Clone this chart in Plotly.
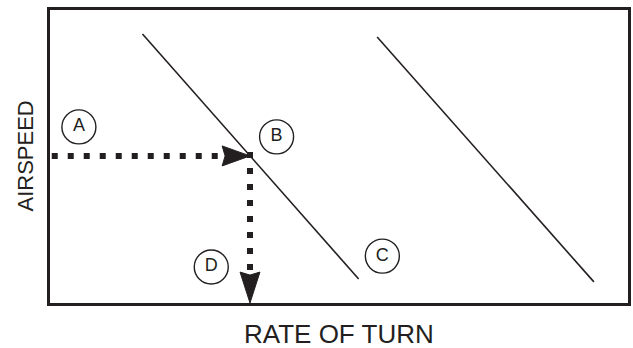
"""Rate of turn vs airspeed diagram"""

import plotly.graph_objects as go

# both axes run 0-100 (no scale shown on the original)
# two lines of constant bank angle
curve1_x = [16.0, 53.4]
curve1_y = [91.8, 8.2]
curve2_x = [56.6, 94.1]
curve2_y = [90.8, 7.2]

# reading: airspeed (A) meets curve 1 at B, drop down to the rate of turn (D)
airspeed = 50.2
turn_rate = 34.6

# circled letters
label_text = ["A", "B", "C", "D"]
label_x = [5.0, 39.2, 57.5, 27.9]
label_y = [60.1, 56.7, 16.0, 12.3]

x_title = "RATE OF TURN"
y_title = "AIRSPEED"

# page and plot area
W, H = 633, 348
M = dict(l=50, r=2, t=10, b=45)
INK = "#231f20"

# pixel -> data unit factors, for arrowheads sized in pixels
px_x = 100 / (W - M["l"] - M["r"])
px_y = 100 / (H - M["t"] - M["b"])
head_len, head_half = 28, 10  # arrowhead size in px

fig = go.Figure()

for cx, cy in [(curve1_x, curve1_y), (curve2_x, curve2_y)]:
    fig.add_trace(go.Scatter(x=cx, y=cy, mode="lines",
                             line=dict(color=INK, width=1.6)))

# dotted path A -> B
h_base = turn_rate - head_len * px_x
fig.add_trace(go.Scatter(x=[0.3, h_base], y=[airspeed, airspeed], mode="lines",
                         line=dict(color=INK, width=6, dash="6px,10px")))
fig.add_trace(go.Scatter(
    x=[turn_rate, h_base, h_base + 3 * px_x, h_base, turn_rate],
    y=[airspeed, airspeed + head_half * px_y, airspeed, airspeed - head_half * px_y, airspeed],
    mode="lines", fill="toself", fillcolor=INK, line=dict(color=INK, width=1)))

# dotted path B -> D
v_base = head_len * px_y + 1
fig.add_trace(go.Scatter(x=[turn_rate, turn_rate], y=[airspeed + 4 * px_y, v_base],
                         mode="lines", line=dict(color=INK, width=6, dash="6px,10px")))
fig.add_trace(go.Scatter(
    x=[turn_rate, turn_rate - head_half * px_x, turn_rate, turn_rate + head_half * px_x, turn_rate],
    y=[0, v_base, v_base - 3 * px_y, v_base, 0],
    mode="lines", fill="toself", fillcolor=INK, line=dict(color=INK, width=1)))

# circled letters
fig.add_trace(go.Scatter(
    x=label_x, y=label_y, mode="markers+text", text=label_text,
    textposition="middle center",
    textfont=dict(family="Liberation Sans Narrow, Liberation Sans, sans-serif", size=18, color=INK),
    marker=dict(symbol="circle-open", size=34, color=INK, line=dict(width=1.4, color=INK))))

axis = dict(range=[0, 100], showgrid=False, zeroline=False, showticklabels=False,
            ticks="", showline=True, mirror=True, linecolor=INK, linewidth=3)

fig.update_layout(
    width=W, height=H, margin=M,
    plot_bgcolor="white", paper_bgcolor="white",
    showlegend=False,
    xaxis=axis, yaxis=axis,
    annotations=[
        dict(text=x_title, xref="paper", yref="paper", x=0.5, y=0, yanchor="top",
             yshift=-14, showarrow=False,
             font=dict(family="Liberation Sans, Arial, sans-serif", size=26, color=INK)),
        dict(text=y_title, xref="paper", yref="paper", x=0, y=0.5, xanchor="center",
             xshift=-25, textangle=-90, showarrow=False,
             font=dict(family="Liberation Sans, Arial, sans-serif", size=22, color=INK)),
    ],
)

fig.write_html("out.html", config={"displayModeBar": False},
               post_script="document.body.style.margin='0';")
